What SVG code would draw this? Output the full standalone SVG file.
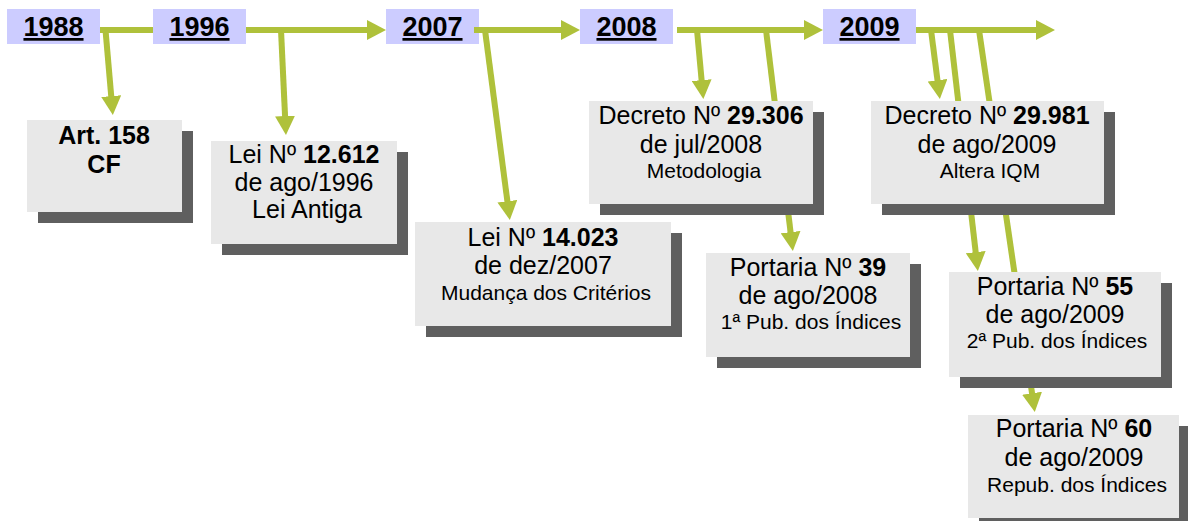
<svg xmlns="http://www.w3.org/2000/svg" width="1188" height="521" viewBox="0 0 1188 521">
<defs>
<style>
.yr{fill:#CCCCFF}
.yt{font-family:"Liberation Sans",Arial,sans-serif;font-size:27px;font-weight:bold;text-anchor:middle;text-decoration:underline;fill:#000}
.sh{fill:#5F5F5F}
.bx{fill:#E8E8E8}
.t{font-family:"Liberation Sans",Arial,sans-serif;font-size:25px;text-anchor:middle;fill:#000}
.s{font-size:21px}
.b{font-weight:bold}
.c{stroke:#AFC13B;stroke-width:6;fill:none}
</style>
<marker id="ah" markerUnits="userSpaceOnUse" markerWidth="20" markerHeight="20" viewBox="0 0 20 20" refX="1" refY="10" orient="auto">
<path d="M0,0 L19,10 L0,20 Z" fill="#AFC13B"/>
</marker>
</defs>
<rect width="1188" height="521" fill="#FFFFFF"/>
<g id="y1988"><rect class="yr" x="7" y="9" width="93" height="35"/><text class="yt" x="53.5" y="36">1988</text></g>
<g id="y1996"><rect class="yr" x="153" y="9" width="93" height="35"/><text class="yt" x="199.5" y="36">1996</text></g>
<g id="y2007"><rect class="yr" x="386" y="9" width="93" height="35"/><text class="yt" x="432.5" y="36">2007</text></g>
<g id="y2008"><rect class="yr" x="580" y="9" width="93" height="35"/><text class="yt" x="626.5" y="36">2008</text></g>
<g id="y2009"><rect class="yr" x="823" y="9" width="93" height="35"/><text class="yt" x="869.5" y="36">2009</text></g>
<g id="connectors">
<line class="c" x1="100" y1="30" x2="153" y2="30"/>
<line class="c" x1="246" y1="30" x2="368" y2="30" marker-end="url(#ah)"/>
<line class="c" x1="474" y1="30" x2="562" y2="30" marker-end="url(#ah)"/>
<line class="c" x1="677" y1="30" x2="805" y2="30" marker-end="url(#ah)"/>
<line class="c" x1="916" y1="30" x2="1037" y2="30" marker-end="url(#ah)"/>
<line class="c" x1="105.5" y1="30" x2="111.3" y2="97.1" marker-end="url(#ah)"/>
<line class="c" x1="281" y1="30" x2="285.1" y2="117" marker-end="url(#ah)"/>
<line class="c" x1="485" y1="30" x2="507.5" y2="202.2" marker-end="url(#ah)"/>
<line class="c" x1="697" y1="30" x2="701.7" y2="81.1" marker-end="url(#ah)"/>
<line class="c" x1="766" y1="30" x2="790.7" y2="233.1" marker-end="url(#ah)"/>
<line class="c" x1="931" y1="30" x2="937.6" y2="81.2" marker-end="url(#ah)"/>
<line class="c" x1="950" y1="30" x2="975.8" y2="253.1" marker-end="url(#ah)"/>
<line class="c" x1="979" y1="30" x2="1032.2" y2="394.2" marker-end="url(#ah)"/>
</g>
<g id="art158">
<rect class="sh" x="38" y="131" width="155" height="92"/><rect class="bx" x="27" y="120" width="155" height="92"/>
<text class="t b" x="104" y="144">Art. 158</text><text class="t b" x="104" y="173">CF</text>
</g>
<g id="lei12612">
<rect class="sh" x="222" y="152" width="186" height="103"/><rect class="bx" x="211" y="141" width="186" height="103"/>
<text class="t" x="304" y="163">Lei Nº <tspan class="b">12.612</tspan></text>
<text class="t" x="304" y="191">de ago/1996</text>
<text class="t" x="307" y="218">Lei Antiga</text>
</g>
<g id="lei14023">
<rect class="sh" x="426" y="233" width="256" height="104"/><rect class="bx" x="415" y="222" width="256" height="104"/>
<text class="t" x="543" y="246">Lei Nº <tspan class="b">14.023</tspan></text>
<text class="t" x="543" y="274">de dez/2007</text>
<text class="t s" x="546" y="300">Mudança dos Critérios</text>
</g>
<g id="decreto29306">
<rect class="sh" x="600" y="112" width="224" height="103"/><rect class="bx" x="589" y="101" width="224" height="103"/>
<text class="t" x="701" y="124">Decreto Nº <tspan class="b">29.306</tspan></text>
<text class="t" x="701" y="153">de jul/2008</text>
<text class="t s" x="704" y="178">Metodologia</text>
</g>
<g id="portaria39">
<rect class="sh" x="717" y="264" width="204" height="104"/><rect class="bx" x="706" y="253" width="204" height="104"/>
<text class="t" x="808" y="276">Portaria Nº <tspan class="b">39</tspan></text>
<text class="t" x="808" y="304">de ago/2008</text>
<text class="t s" x="811" y="329">1ª Pub. dos Índices</text>
</g>
<g id="decreto29981">
<rect class="sh" x="882" y="112" width="233" height="103"/><rect class="bx" x="871" y="101" width="233" height="103"/>
<text class="t" x="987" y="124">Decreto Nº <tspan class="b">29.981</tspan></text>
<text class="t" x="987" y="153">de ago/2009</text>
<text class="t s" x="990" y="178">Altera IQM</text>
</g>
<g id="portaria55">
<rect class="sh" x="960" y="283" width="212" height="105"/><rect class="bx" x="949" y="272" width="212" height="105"/>
<text class="t" x="1055" y="295">Portaria Nº <tspan class="b">55</tspan></text>
<text class="t" x="1055" y="323">de ago/2009</text>
<text class="t s" x="1057" y="348">2ª Pub. dos Índices</text>
</g>
<g id="portaria60">
<rect class="sh" x="979" y="426" width="211" height="103"/><rect class="bx" x="968" y="415" width="211" height="103"/>
<text class="t" x="1074" y="437">Portaria Nº <tspan class="b">60</tspan></text>
<text class="t" x="1074" y="466">de ago/2009</text>
<text class="t s" x="1077" y="492">Repub. dos Índices</text>
</g>
</svg>
